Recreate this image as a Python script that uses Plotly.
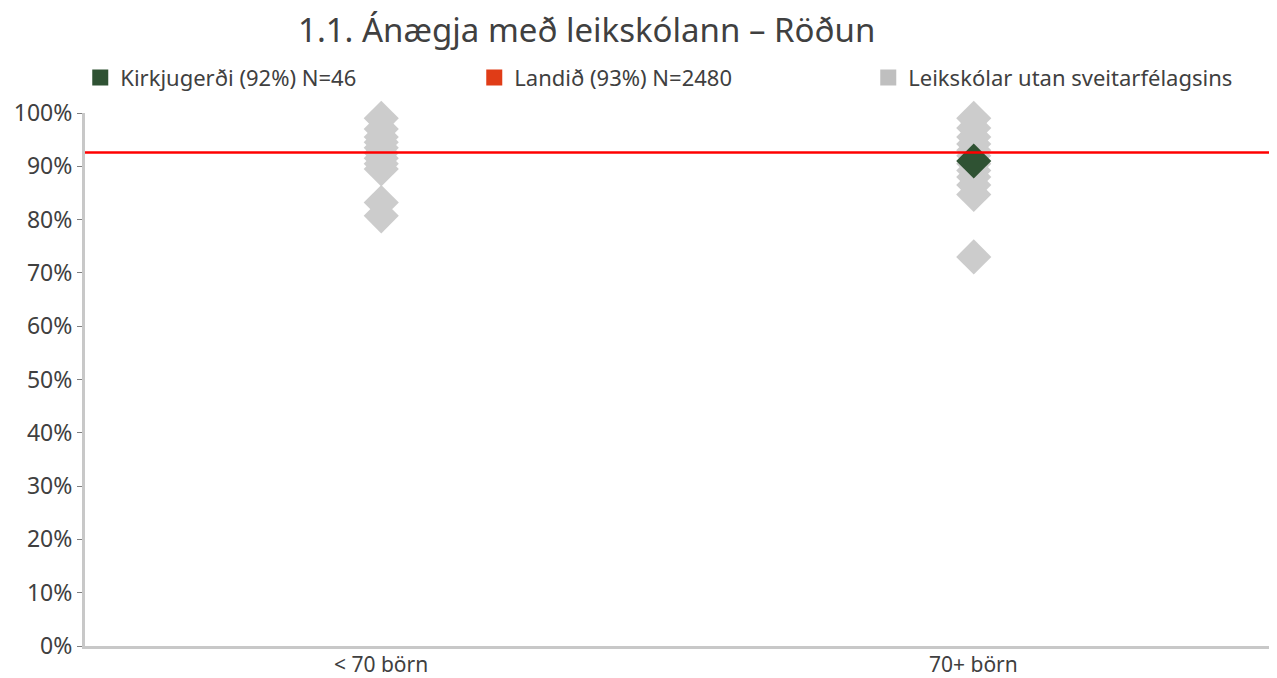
import plotly.graph_objects as go

categories = ["< 70 börn", "70+ börn"]
other_lt70 = [99, 97, 95.5, 94.5, 93.5, 92.5, 91.5, 90.5, 89.5, 83.2, 80.7]
other_70p = [99, 97.2, 95.5, 94.2, 93, 92, 90.5, 89.2, 88, 86.5, 84.7, 73]
kirkjugerdi_cat = ["70+ börn"]
kirkjugerdi_val = [91.0]
landid_val = 92.6

names = ["Kirkjugerði (92%) N=46", "Landið (93%) N=2480", "Leikskólar utan sveitarfélagsins"]
gray = "#CCCCCC"
green = "#2F5233"
red = "#FF0000"
legend_red = "#E03C17"
legend_gray = "#BFBFBF"
txt = "#404040"
FONT = "'Noto Sans', 'Open Sans', sans-serif"

fig = go.Figure()

xs = [categories[0]] * len(other_lt70) + [categories[1]] * len(other_70p)
ys = other_lt70 + other_70p
fig.add_trace(go.Scatter(x=xs, y=ys, mode="markers", showlegend=False,
                         marker=dict(symbol="diamond", size=27, color=gray),
                         cliponaxis=False, hoverinfo="y"))
fig.add_trace(go.Scatter(x=kirkjugerdi_cat, y=kirkjugerdi_val, mode="markers", showlegend=False,
                         marker=dict(symbol="diamond", size=27, color=green),
                         cliponaxis=False, hoverinfo="y"))

# legend entries
for nm, col in zip(names, [green, legend_red, legend_gray]):
    fig.add_trace(go.Scatter(x=[None], y=[None], mode="markers", name=nm,
                             marker=dict(symbol="square", size=18, color=col)))

fig.add_shape(type="line", xref="paper", x0=0, x1=1, yref="y", y0=landid_val, y1=landid_val,
              line=dict(color=red, width=2.5))

# category labels below the axis
for c in categories:
    fig.add_annotation(x=c, xref="x", y=0, yref="paper", yanchor="top", yshift=-2,
                       text=c, showarrow=False, font=dict(size=21, color=txt, family=FONT))

fig.update_layout(
    width=1269, height=670,
    margin=dict(l=77, r=7, t=105, b=32, autoexpand=False),
    paper_bgcolor="white", plot_bgcolor="white",
    font=dict(family=FONT, color=txt, size=23),
    title=dict(text="1.1. Ánægja með leikskólann – Röðun", x=0.456, xanchor="center",
               y=0.967, yanchor="middle", font=dict(size=33, color=txt, family=FONT)),
    legend=dict(orientation="h", x=-0.004, xanchor="left", y=1.066, yanchor="middle",
                entrywidth=349, entrywidthmode="pixels", font=dict(size=22, color=txt),
                tracegroupgap=0, bgcolor="rgba(0,0,0,0)"),
    xaxis=dict(type="category", categoryorder="array", categoryarray=categories,
               range=[-0.5, 1.5], showgrid=False, showline=True, linecolor="#C8C8C8", linewidth=3,
               ticks="", showticklabels=False, zeroline=False, automargin=False),
    yaxis=dict(range=[0, 100], dtick=10, ticksuffix="%", showgrid=False, showline=True,
               linecolor="#C8C8C8", linewidth=3, ticks="outside", ticklen=5, tickcolor="#808080",
               tickwidth=1, tickfont=dict(size=23, color=txt), zeroline=False, automargin=False),
)

fig.write_html("out.html")
